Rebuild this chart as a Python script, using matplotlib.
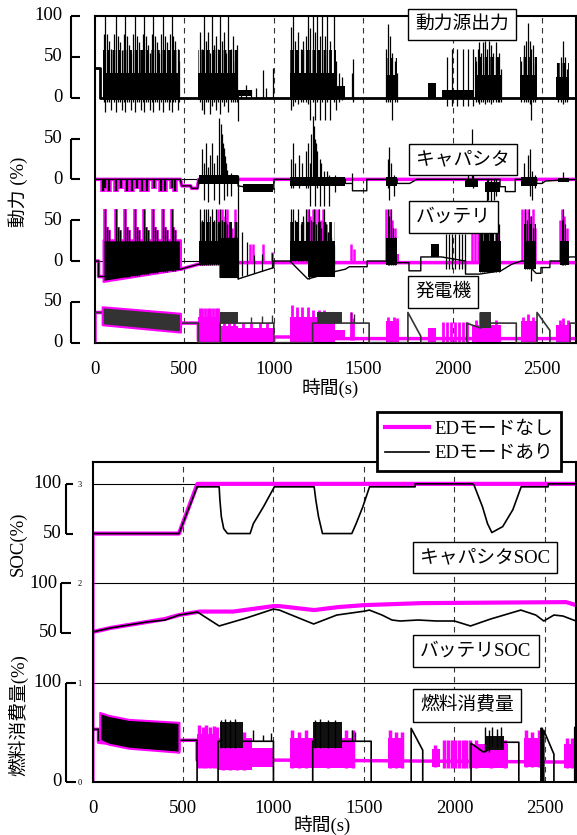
import numpy as np
import matplotlib
matplotlib.use('Agg')
import matplotlib.pyplot as plt
import matplotlib.transforms as mtransforms

plt.rcParams['font.family'] = ['Liberation Serif', 'Noto Sans CJK JP']
plt.rcParams['hatch.linewidth'] = 2.0
MAG = '#ff00ff'
FS = 13.5
W, H = 577, 835

# ---------------- common time axis ----------------
xticks = [0, 500, 1000, 1500, 2000, 2500]
dash_t = [500, 1000, 1500, 2000, 2500]
T1, T2 = 2690, 2672          # right edge of top / bottom axes (s)

# ---------------- top panel: power (%) ----------------
# each sub-trace is drawn with its own vertical offset
OFF_ENG, OFF_CAP, OFF_BAT, OFF_GEN = 300, 200, 100, 0

# power source output (動力源出力)
eng_line_t = [0, 30, 30, T1]
eng_line_v = [36, 36, 0, 0]
# packed oscillation (solid) and loosely packed upper part (hatched)
eng_bands = [(45, 478, -3, 30), (578, 800, -3, 30), (800, 880, 2, 9),
             (1090, 1350, -3, 30), (1350, 1400, 0, 14), (1625, 1690, -3, 28),
             (1860, 1905, 0, 18), (1940, 2115, 0, 9), (2125, 2270, -3, 28),
             (2375, 2470, -3, 28), (2580, 2650, -3, 25)]
eng_sparse = [(45, 478, 30, 58), (578, 800, 30, 58), (1090, 1350, 30, 58),
              (1625, 1690, 28, 48), (2125, 2270, 28, 50), (2375, 2470, 28, 50),
              (2580, 2650, 25, 42)]
eng_spikes = [
    (50, -5, 78), (58, -18, 100), (68, -5, 78), (80, -5, 70), (92, -15, 60),
    (108, -5, 78), (118, -18, 100), (128, -5, 75), (140, -5, 68), (150, -15, 58),
    (160, -5, 78), (170, -18, 100), (180, -5, 75), (192, -5, 65), (204, -15, 55),
    (214, -5, 78), (224, -18, 100), (234, -5, 75), (246, -5, 68), (258, -15, 55),
    (266, -5, 78), (276, -18, 100), (286, -5, 75), (298, -5, 65), (308, -15, 55),
    (316, -5, 78), (325, -18, 100), (335, -5, 75), (347, -5, 68), (360, -15, 55),
    (370, -5, 78), (380, -18, 100), (390, -5, 75), (402, -5, 68), (412, -15, 55),
    (420, -5, 78), (428, -18, 100), (438, -5, 75), (450, -5, 70), (462, -15, 60),
    (472, -5, 45),
    (585, -5, 80), (596, -15, 60), (607, -20, 100), (618, -5, 70), (630, -5, 80),
    (642, -20, 55), (654, -10, 100), (666, -5, 65), (678, -15, 75), (689, -5, 60),
    (700, -20, 100), (711, -5, 70), (722, -10, 80), (734, -5, 55), (746, -18, 100),
    (758, -5, 60), (770, -5, 75), (783, -5, 45), (796, -5, 65), (800, -28, 5),
    (815, 0, 10), (843, 0, 15), (870, 0, 10), (898, 0, 12), (937, 0, 34),
    (955, 0, 12), (993, 0, 36),
    (1095, -15, 87), (1106, -10, 100), (1120, -5, 70), (1135, -8, 80), (1150, -5, 60),
    (1165, -5, 70), (1178, -5, 75), (1189, -8, 100), (1203, -27, 85), (1217, -5, 100),
    (1230, -27, 80), (1244, -5, 100), (1258, -27, 75), (1272, -5, 100), (1286, -27, 75),
    (1300, -5, 100), (1315, -27, 70), (1339, -5, 100), (1350, -15, 45), (1365, -5, 30),
    (1380, -3, 25), (1435, 0, 30), (1445, -5, 47),
    (1630, -5, 60), (1640, -5, 90), (1650, -5, 75), (1661, -27, 55), (1675, -5, 45),
    (1688, -5, 30),
    (1970, -10, 50), (1998, -10, 60), (2026, -10, 60), (2056, -10, 60), (2086, -10, 60),
    (2116, -10, 60),
    (2130, -5, 45), (2140, -5, 60), (2150, -8, 68), (2160, -5, 55), (2170, -5, 68),
    (2182, -8, 70), (2194, -5, 60), (2205, -5, 70), (2216, -8, 65), (2228, -5, 55),
    (2240, -5, 68), (2252, -5, 50), (2262, -5, 55), (2270, -5, 35),
    (2385, -5, 45), (2400, -5, 65), (2412, -5, 70), (2422, -5, 92), (2432, -8, 70),
    (2440, -27, 60), (2452, -5, 65), (2462, -5, 40),
    (2590, -5, 30), (2605, -5, 50), (2618, -8, 69), (2630, -5, 50), (2642, -5, 35)]

# capacitor (キャパシタ)
cap_m_t = [0, 478, 485, 535, 540, 572, 580, T1]
cap_m_v = [0, 0, -8, -8, -11, -11, 0, 0]
cap_pulse_t = [45, 58, 80, 117, 145, 178, 209, 237, 265, 292, 329, 367, 394, 431, 450]
cap_pulse_d = [-16, -12, -16, -16, -12, -16, -16, -12, -16, -16, -12, -16, -16, -12, -16]
cap_k_t = [0, 478, 485, 535, 540, 575, 580, 800, 800, 860, 1000, 1000, 1400, 1400, 1440,
           1440, 1520, 1520, 1690, 1690, 1760, 1800, 2265, 2265, 2295, 2295, 2350, 2350,
           2470, 2470, 2500, 2520, T1]
cap_k_v = [0, 0, -8, -8, -11, -11, 0, 0, -8, -10, -12, 0, 0, -5, -5,
           -14, -14, 0, 0, -5, -5, 0, 0, -9, -9, -15, -15, 0,
           0, -5, -5, -2, 0]
cap_k_bands = [(580, 800, -6, 5), (830, 995, -15, -6), (1090, 1400, -8, 3),
               (1625, 1690, -8, 3), (2070, 2140, -9, 1), (2180, 2265, -16, -3),
               (2380, 2470, -8, 3), (2590, 2650, -3, 2)]
cap_k_spikes = [
    (600, -5, 37), (612, -25, 20), (622, -5, 45), (634, -28, 15), (645, -5, 30),
    (654, -5, 44), (666, -25, 20), (680, -5, 30), (696, -30, 75), (702, -5, 68),
    (708, -5, 55), (714, -5, 45), (720, -25, 38), (726, -5, 28), (732, -5, 20),
    (740, -20, 12), (760, -20, 8),
    (1095, -10, 25), (1106, -10, 45), (1120, -5, 20), (1140, -10, 30), (1160, -5, 20),
    (1178, -10, 35), (1190, -10, 45), (1200, -33, 20), (1210, -5, 55), (1217, -5, 77),
    (1224, -5, 65), (1228, -33, 50), (1236, -5, 45), (1244, -10, 35), (1256, -33, 25),
    (1265, -5, 20), (1283, -33, 10), (1300, -5, 10), (1311, -33, 5), (1340, -15, 5),
    (1440, -5, 8),
    (1636, -10, 25), (1644, -25, 40), (1655, -5, 20), (1670, -20, 5),
    (2085, -5, 15), (2108, -5, 62), (2115, -10, 20),
    (2190, -30, 0), (2200, -25, 0), (2215, -30, 0), (2230, -25, 0), (2245, -20, 0),
    (2400, -5, 20), (2420, -5, 30), (2433, -20, 37), (2445, -25, 10), (2460, -10, 5),
    (2617, 0, 9)]

# battery (バッテリ)
bat_m_t = [0, 20, 20, 45, 478, 578, 800, T1]
bat_m_v = [0, 0, -19, -19, -10, -4, -2, -2]
bat_k_t = [0, 20, 20, 45, 478, 578, 580, 700, 700, 800, 800, 1000, 1000, 1090, 1190,
           1340, 1400, 1422, 1522, 1522, 1628, 1690, 1756, 1756, 1822, 1822, 1939,
           2072, 2072, 2150, 2270, 2300, 2330, 2383, 2400, 2467, 2494, 2494, 2544,
           2544, 2600, 2656, T1]
bat_k_v = [0, 0, -19, -19, -10, -4, -4, -3, -20, -20, -22, -8, 0, 0, -22,
           -13, -10, -7, -7, 0, 0, -2, -2, -12, -12, 5, 5,
           0, -16, -16, -12, -8, -4, 0, 0, -15, -15, -8, -8,
           0, 0, 5, 5]
bat_burst1_t = [45, 478]
bat_burst1_lo = [-25, -10]
bat_burst1_hi = [26, 26]
bat_k_bands = [(580, 700, -4, 25), (700, 800, -20, 28), (1090, 1190, 0, 25),
               (1190, 1340, -20, 25), (1628, 1690, -5, 28), (1878, 1922, 5, 21),
               (2150, 2270, -14, 25), (2400, 2465, -10, 25), (2600, 2650, -5, 25)]
bat_sparse = [(580, 800, 25, 48), (1090, 1340, 25, 48), (2150, 2270, 25, 45),
              (2400, 2465, 25, 45)]
bat_burst1_spikes = [
    (58, -22, 64), (68, -22, 42), (80, -22, 38), (118, -20, 64), (128, -20, 42),
    (140, -20, 38), (170, -19, 64), (180, -19, 42), (192, -19, 38), (224, -18, 64),
    (234, -18, 42), (246, -18, 38), (276, -16, 64), (286, -16, 42), (298, -16, 38),
    (325, -15, 64), (335, -15, 42), (347, -15, 38), (380, -13, 64), (390, -13, 42),
    (402, -13, 38), (428, -12, 64), (438, -12, 42), (450, -12, 38)]
bat_k_spikes = [
    (585, -5, 64), (596, -5, 50), (607, -5, 64), (620, -5, 64), (633, -5, 64),
    (645, -5, 55), (654, -5, 64), (666, -5, 50), (678, -5, 64), (690, -5, 45),
    (700, -20, 64), (712, -20, 50), (725, -20, 64), (740, -20, 45), (760, -20, 40),
    (780, -20, 30), (800, -22, 105),
    (822, -18, 36), (850, -17, 23), (890, -15, 7), (932, -12, 9), (990, -9, 10),
    (1095, 0, 64), (1106, 0, 64), (1120, 0, 50), (1135, 0, 64), (1150, 0, 45),
    (1165, 0, 55), (1180, 0, 64), (1195, -22, 64), (1210, -20, 50), (1222, -20, 64),
    (1235, -18, 45), (1250, -18, 64), (1265, -17, 40), (1278, -16, 64), (1292, -15, 45),
    (1305, -15, 35), (1320, -14, 30), (1335, -13, 20),
    (1636, -5, 64), (1645, -5, 55), (1655, -5, 64), (1665, -5, 40), (1680, -5, 30),
    (1962, -10, 33), (1980, -10, 33), (1998, -10, 33), (2016, -10, 33), (2034, -10, 33),
    (2052, -10, 33), (2070, -10, 33),
    (2155, -14, 64), (2165, -14, 45), (2175, -14, 64), (2190, -14, 64), (2200, -14, 45),
    (2210, -14, 64), (2228, -14, 64), (2245, -14, 64), (2258, -14, 45),
    (2405, -10, 64), (2415, -10, 50), (2425, -10, 64), (2440, -25, 55), (2450, -10, 40),
    (2610, -5, 50), (2617, -5, 64), (2628, -5, 45)]
bat_m_bands = [(580, 800, -4, 5), (1090, 1340, -3, 8), (1625, 1700, -3, 8)]
bat_m_spikes = [
    (690, 0, 64), (700, 0, 50), (712, 0, 64), (725, 0, 55), (738, 0, 64),
    (750, 0, 45), (765, 0, 40), (785, 0, 64), (795, 0, 30),
    (867, 0, 21), (885, 0, 21), (941, 0, 21), (989, 0, 11),
    (1190, -2, 64), (1205, -2, 55), (1220, -2, 64), (1232, -2, 64), (1248, -2, 64),
    (1262, -2, 50), (1276, -2, 64), (1290, -2, 45), (1305, -2, 35), (1320, -2, 25),
    (1433, -2, 21), (1450, -2, 15),
    (1630, -2, 64), (1650, -2, 64), (1662, -2, 50), (1675, -2, 40),
    (2110, -2, 37), (2125, -2, 37), (2140, -2, 37),
    (2160, -2, 48), (2175, -2, 45), (2190, -2, 49), (2205, -2, 48), (2220, -2, 45),
    (2240, -2, 48), (2256, -2, 40),
    (2390, -2, 64), (2405, -2, 64), (2420, -2, 64), (2435, -2, 55), (2450, -2, 64),
    (2461, -2, 40),
    (2600, -2, 50), (2610, -2, 64), (2625, -2, 55), (2640, -2, 40)]

# generator (発電機)
gen_m_t = [0, 0, 40, 478, 478, 578, 578, 1000, 1000, 1090, 1340, T1]
gen_m_v = [0, 37, 37, 20, 24, 24, 3, 3, 7, 7, 5, 5]
gen_k_t = [0, 0, 40, 478, 478, 578, 578, 700, 700, 1000, 1000, 1217, 1217, 1533, 1533,
           1750, 1750, 1822, 1822, 2078, 2078, 2155, 2217, 2356, 2356, 2472, 2472,
           2544, 2544, 2656, 2656, T1]
gen_k_v = [0, 37, 37, 20, 24, 24, 0, 0, 24, 24, 0, 0, 24, 24, 0,
           0, 37, 8, 0, 0, 24, 18, 24, 24, 0, 0, 37,
           15, 0, 0, 24, 24]
gen_burst1_t = [40, 478]
gen_burst1_lo = [22, 13]
gen_burst1_hi = [44, 36]
gen_k_bands = [(700, 800, 24, 37), (1240, 1380, 24, 37), (2155, 2217, 18, 37)]
gen_k_spikes = [(875, 24, 32), (932, 24, 33), (988, 24, 34), (1433, 24, 37), (1450, 24, 35)]
gen_m_bands = [(578, 700, 2, 32), (700, 800, 0, 20), (800, 1000, 3, 18),
               (1090, 1340, 0, 32), (1340, 1400, 3, 16), (1625, 1700, 0, 26),
               (1860, 1905, 0, 18), (2110, 2270, 0, 22), (2380, 2470, 0, 26),
               (2580, 2660, 0, 22)]
gen_m_spikes = [
    (585, 2, 43), (600, 2, 43), (615, 2, 43), (630, 2, 43), (645, 2, 43),
    (660, 2, 43), (675, 2, 43), (690, 2, 43),
    (720, 0, 26), (750, 0, 26), (780, 0, 26), (830, 3, 24), (870, 3, 24), (920, 3, 24),
    (960, 3, 24), (1100, 0, 46), (1130, 0, 44), (1160, 0, 44), (1190, 0, 44),
    (1220, 0, 40), (1250, 0, 40), (1280, 0, 40), (1310, 0, 38),
    (1433, 3, 37), (1445, 3, 30), (1640, 0, 32), (1670, 0, 32), (1690, 0, 30),
    (1945, 0, 25), (1968, 0, 25), (1991, 0, 25), (2014, 0, 25), (2037, 0, 25),
    (2060, 0, 25), (2083, 0, 25),
    (2130, 0, 28), (2155, 0, 37), (2180, 0, 28), (2200, 0, 30), (2240, 0, 28),
    (2395, 0, 32), (2420, 0, 35), (2450, 0, 32), (2600, 0, 28), (2620, 0, 30),
    (2645, 0, 28)]

# ---------------- bottom panel: SOC / fuel (%) ----------------
OFF_CSOC, OFF_BSOC, OFF_FUEL = 2, 1, 0

# capacitor SOC (the logged value is 0 at the first sample)
csoc_nd_t = [0, 0, 478, 580, T2]
csoc_nd_v = [-200, 50, 50, 100, 100]
csoc_ed_t = [0, 478, 578, 700, 704, 712, 725, 746, 871, 889, 945, 1005, 1225, 1234,
             1249, 1271, 1433, 1457, 1494, 1531, 1783, 1783, 2100, 2108, 2155, 2183,
             2207, 2267, 2323, 2369, 2518, 2518, T2]
csoc_ed_v = [50, 50, 97, 97, 84, 67, 55, 50, 50, 60, 77, 97, 97, 84,
             67, 50, 50, 60, 77, 97, 97, 100, 100, 99, 77, 60,
             51, 57, 74, 97, 97, 100, 100]

# battery SOC
bsoc_nd_t = [2, 100, 200, 300, 400, 478, 592, 778, 1000, 1033, 1225, 1357, 1504, 1820,
             2618, T2]
bsoc_nd_v = [51, 55, 58, 61, 64, 68, 71.5, 71.5, 77, 77, 73, 76, 78, 80, 81, 78]
bsoc_ed_t = [2, 100, 200, 300, 400, 478, 580, 700, 850, 1000, 1033, 1100, 1222, 1350,
             1506, 1530, 1600, 1655, 1700, 1800, 1900, 2000, 2089, 2200, 2367, 2450,
             2494, 2550, 2600, T2]
bsoc_ed_v = [51, 55, 58, 61, 63, 68, 71, 57, 65, 74, 73, 68, 59, 68,
             72, 73, 68, 63, 62, 63, 62, 62, 57, 64, 73, 68,
             62, 68, 67, 62]

# fuel consumption (燃料消費量)
fuel_m_t = [0, 33, 33, 478, 478, 578, 578, 1100, T2]
fuel_m_v = [53, 53, 40, 32, 42, 42, 22, 22, 20]
fuel_k_t = [0, 33, 33, 478, 478, 578, 578, 694, 694, 1000, 1000, 1217, 1217, 1540, 1540,
            1761, 1761, 1825, 1825, 2092, 2092, 2161, 2272, 2356, 2356, 2478, 2478,
            2486, 2486, 2494, 2494, 2550, 2550, 2665, 2665, T2]
fuel_k_v = [53, 53, 42, 32, 42, 42, 0, 0, 41, 41, 0, 0, 41, 41, 0,
            0, 54, 32, 0, 0, 39, 30, 40, 40, 0, 0, 54,
            54, 0, 0, 52, 28, 0, 0, 55, 54]
fuel_burst1_t = [40, 90, 200, 478]
fuel_burst1_lo = [42, 38, 34, 30]
fuel_burst1_hi = [70, 67, 63, 60]
fuel_k_bands = [(704, 832, 34, 60), (1220, 1380, 34, 60), (2167, 2272, 32, 46)]
fuel_k_spikes = [(710, 34, 62), (730, 34, 63), (760, 34, 62), (790, 34, 63),
                 (885, 41, 52), (941, 41, 47), (989, 41, 49),
                 (1230, 34, 62), (1260, 34, 63), (1300, 34, 62), (1340, 34, 62),
                 (1433, 41, 52), (1450, 41, 50), (2170, 30, 55), (2190, 30, 52),
                 (2210, 35, 55), (2235, 35, 53), (2255, 35, 55)]
fuel_m_bands = [(578, 700, 14, 48), (700, 880, 12, 44), (880, 1000, 15, 34),
                (1090, 1440, 14, 44), (1633, 1717, 14, 44), (1878, 1922, 15, 33),
                (2089, 2294, 14, 38), (2383, 2478, 15, 44), (2606, T2, 14, 38)]
fuel_m_spikes = [(590, 14, 57), (610, 14, 55), (630, 14, 57), (650, 14, 55),
                 (670, 14, 56), (690, 14, 55), (720, 12, 52), (760, 12, 50),
                 (800, 12, 52), (840, 12, 50), (1100, 14, 52), (1140, 14, 50),
                 (1180, 14, 52), (1300, 14, 50), (1400, 14, 52), (1440, 14, 52),
                 (1645, 14, 52), (1680, 14, 50), (1710, 14, 50), (1895, 15, 37),
                 (1945, 14, 42), (1965, 14, 42), (1985, 14, 42), (2005, 14, 42),
                 (2025, 14, 42), (2045, 14, 42), (2065, 14, 42), (2085, 14, 42),
                 (2120, 14, 42), (2200, 14, 42), (2280, 14, 42),
                 (2395, 15, 52), (2430, 15, 50), (2465, 15, 52), (2620, 14, 44),
                 (2650, 14, 44)]


# ---------------- helpers ----------------
def Y(off, sc, v):
    return off + np.asarray(v, float) * sc


def line(ax, t, v, off, sc, **kw):
    ax.plot(t, Y(off, sc, v), **kw)


def bands(ax, bl, off, sc, z, color, hatch=None):
    # dense oscillation areas: solid, or hatched where lines are loosely packed
    for t0, t1, lo, hi in bl:
        if hatch:
            ax.fill_between([t0, t1], Y(off, sc, [lo, lo]), Y(off, sc, [hi, hi]),
                            facecolor='none', edgecolor=color, hatch=hatch, lw=0,
                            zorder=z)
        else:
            ax.fill_between([t0, t1], Y(off, sc, [lo, lo]), Y(off, sc, [hi, hi]),
                            color=color, lw=0, zorder=z)


def spikes(ax, sp, off, sc, color, lw, z):
    sp = np.array(sp, float)
    ax.vlines(sp[:, 0], Y(off, sc, sp[:, 1]), Y(off, sc, sp[:, 2]),
              colors=color, lw=lw, zorder=z)


def bracket(ax, xpx, ticks, labels, stub, gap=8):
    tr = mtransforms.blended_transform_factory(fig.transFigure, ax.transData)
    x0 = xpx / W
    ax.plot([x0, x0], [min(ticks), max(ticks)], transform=tr, color='k', lw=1.5,
            clip_on=False, solid_capstyle='butt')
    for tk, lb in zip(ticks, labels):
        ax.plot([x0, (xpx + stub) / W], [tk, tk], transform=tr, color='k', lw=1.5,
                clip_on=False, solid_capstyle='butt')
        ax.text((xpx - gap) / W, tk, lb, transform=tr, ha='right', va='center',
                fontsize=FS)


def boxlabel(xl, yc, s):
    fig.text((xl + 7) / W, 1 - yc / H, s, ha='left', va='center', fontsize=FS,
             bbox=dict(boxstyle='square,pad=0.38', fc='w', ec='k', lw=1.0), zorder=20)


def style(ax, tmax):
    ax.set_xlim(0, tmax)
    ax.set_xticks(xticks)
    ax.tick_params(axis='x', length=0, pad=13, labelsize=FS)
    for s in ax.spines.values():
        s.set_linewidth(1.5)
    for t in dash_t:
        ax.axvline(t, color='#333333', lw=0.8, ls=(0, (5, 4)), zorder=1.5)


fig = plt.figure(figsize=(W / 100, H / 100), dpi=100)

# ================= top panel =================
ax1 = fig.add_axes([95 / W, 1 - 342.7 / H, (576 - 95) / W, (342.7 - 16) / H])
style(ax1, T1)
ax1.set_ylim(0, 400)
ax1.set_yticks([])
ax1.axhline(OFF_CAP, color='k', lw=0.8, zorder=1.6)
ax1.axhline(OFF_BAT, color='k', lw=0.8, zorder=1.6)

# power source
bands(ax1, eng_bands, OFF_ENG, 1, 3, 'k')
bands(ax1, eng_sparse, OFF_ENG, 1, 3, 'k', hatch='|||')
spikes(ax1, eng_spikes, OFF_ENG, 1, 'k', 0.9, 3)
line(ax1, eng_line_t, eng_line_v, OFF_ENG, 1, color='k', lw=2, zorder=3.5)

# capacitor
line(ax1, cap_m_t, cap_m_v, OFF_CAP, 1, color=MAG, lw=2.5, zorder=2)
spikes(ax1, [(t, 0, d) for t, d in zip(cap_pulse_t, cap_pulse_d)], OFF_CAP, 1, MAG, 4, 2)
spikes(ax1, [(t, 0, d + 2) for t, d in zip(cap_pulse_t, cap_pulse_d)], OFF_CAP, 1, 'k', 1.6, 3)
line(ax1, cap_k_t, cap_k_v, OFF_CAP, 1, color='k', lw=1.0, zorder=3)
bands(ax1, cap_k_bands, OFF_CAP, 1, 3, 'k')
spikes(ax1, cap_k_spikes, OFF_CAP, 1, 'k', 0.9, 3)

# battery
line(ax1, bat_m_t, bat_m_v, OFF_BAT, 1, color=MAG, lw=2.5, zorder=2)
bands(ax1, bat_m_bands, OFF_BAT, 1, 2, MAG)
spikes(ax1, bat_m_spikes, OFF_BAT, 1, MAG, 1.8, 2)
ax1.fill_between(bat_burst1_t, Y(OFF_BAT, 1, bat_burst1_lo), Y(OFF_BAT, 1, bat_burst1_hi),
                 facecolor='k', edgecolor=MAG, lw=1.5, zorder=3)
spikes(ax1, bat_burst1_spikes, OFF_BAT, 1, MAG, 2.6, 2.5)
spikes(ax1, bat_burst1_spikes, OFF_BAT, 1, 'k', 1.0, 3)
line(ax1, bat_k_t, bat_k_v, OFF_BAT, 1, color='k', lw=1.0, zorder=3)
bands(ax1, bat_k_bands, OFF_BAT, 1, 3, 'k')
bands(ax1, bat_sparse, OFF_BAT, 1, 3, 'k', hatch='|||')
spikes(ax1, bat_k_spikes, OFF_BAT, 1, 'k', 0.9, 3)

# generator
line(ax1, gen_m_t, gen_m_v, OFF_GEN, 1, color=MAG, lw=2.5, zorder=2)
bands(ax1, gen_m_bands, OFF_GEN, 1, 2, MAG)
spikes(ax1, gen_m_spikes, OFF_GEN, 1, MAG, 2.0, 2)
line(ax1, gen_k_t, gen_k_v, OFF_GEN, 1, color='#333333', lw=1.2, zorder=3)
ax1.fill_between(gen_burst1_t, Y(OFF_GEN, 1, gen_burst1_lo), Y(OFF_GEN, 1, gen_burst1_hi),
                 facecolor='#333333', edgecolor=MAG, lw=1.5, zorder=3)
bands(ax1, gen_k_bands, OFF_GEN, 1, 3, '#333333')
spikes(ax1, gen_k_spikes, OFF_GEN, 1, '#333333', 1.0, 3)

bracket(ax1, 71, [OFF_ENG, OFF_ENG + 50, OFF_ENG + 100], ['0', '50', '100'], 9)
bracket(ax1, 71, [OFF_CAP, OFF_CAP + 50], ['0', '50'], 9)
bracket(ax1, 71, [OFF_BAT, OFF_BAT + 50], ['0', '50'], 9)
bracket(ax1, 71, [OFF_GEN, OFF_GEN + 50], ['0', '50'], 9)

boxlabel(408, 24.5, '動力源出力')
boxlabel(409, 159.5, 'キャパシタ')
boxlabel(409, 217, 'バッテリ')
boxlabel(408, 292, '発電機')
fig.text(330 / W, 1 - 388 / H, '時間(s)', ha='center', va='center', fontsize=FS)
fig.text(18 / W, 1 - 192 / H, '動力 (%)', ha='center', va='center', fontsize=FS,
         rotation=90)

# ================= bottom panel =================
ax2 = fig.add_axes([92.5 / W, 1 - 782 / H, (576 - 92.5) / W, (782 - 462) / H])
style(ax2, T2)
ax2.set_ylim(0, 3.22)
ax2.set_yticks([0, 1, 2, 3])
ax2.tick_params(axis='y', length=0, pad=8, labelsize=6)
for g in [1, 2, 3]:
    ax2.axhline(g, color='k', lw=0.8, zorder=1)

sc = 0.01
l_nd, = ax2.plot(csoc_nd_t, Y(OFF_CSOC, sc, csoc_nd_v), color=MAG, lw=3, zorder=2)
ax2.plot(csoc_ed_t, Y(OFF_CSOC, sc, csoc_ed_v), color='k', lw=1.2, zorder=3)
ax2.plot(bsoc_nd_t, Y(OFF_BSOC, sc, bsoc_nd_v), color=MAG, lw=3, zorder=2)
l_ed, = ax2.plot(bsoc_ed_t, Y(OFF_BSOC, sc, bsoc_ed_v), color='k', lw=1.2, zorder=3)

line(ax2, fuel_m_t, fuel_m_v, OFF_FUEL, sc, color=MAG, lw=2.5, zorder=2)
bands(ax2, fuel_m_bands, OFF_FUEL, sc, 2, MAG)
spikes(ax2, fuel_m_spikes, OFF_FUEL, sc, MAG, 2.5, 2)
line(ax2, fuel_k_t, fuel_k_v, OFF_FUEL, sc, color='k', lw=1.2, zorder=3)
ax2.fill_between(fuel_burst1_t, Y(OFF_FUEL, sc, fuel_burst1_lo),
                 Y(OFF_FUEL, sc, fuel_burst1_hi), facecolor='k', edgecolor=MAG,
                 lw=1.5, zorder=3)
bands(ax2, fuel_k_bands, OFF_FUEL, sc, 3, '#111111')
spikes(ax2, fuel_k_spikes, OFF_FUEL, sc, 'k', 1.0, 3)

bracket(ax2, 66, [OFF_CSOC + 0.5, OFF_CSOC + 1], ['50', '100'], 7, gap=4)
bracket(ax2, 61, [OFF_BSOC + 0.5, OFF_BSOC + 1], ['50', '100'], 10, gap=3)
bracket(ax2, 66, [OFF_FUEL, OFF_FUEL + 1], ['0', '100'], 10, gap=4)

boxlabel(413, 557.5, 'キャパシタSOC')
boxlabel(413, 651, 'バッテリSOC')
boxlabel(413, 705.5, '燃料消費量')
fig.text(322 / W, 1 - 825 / H, '時間(s)', ha='center', va='center', fontsize=FS)
fig.text(18 / W, 1 - 544 / H, 'SOC(%)', ha='center', va='center', fontsize=FS,
         rotation=90)
fig.text(18 / W, 1 - 715 / H, '燃料消費量(%)', ha='center', va='center', fontsize=FS,
         rotation=90)

leg = ax2.legend([l_nd, l_ed], ['EDモードなし', 'EDモードあり'], loc='upper left',
                 bbox_to_anchor=(377 / W, 1 - 412 / H), bbox_transform=fig.transFigure,
                 fontsize=FS, frameon=True, fancybox=False, edgecolor='k',
                 framealpha=1, borderaxespad=0, handlelength=2.3, handletextpad=0.3,
                 borderpad=0.45, labelspacing=0.4)
leg.get_frame().set_linewidth(2)
leg.set_zorder(30)

fig.savefig('out.png', dpi=100)
